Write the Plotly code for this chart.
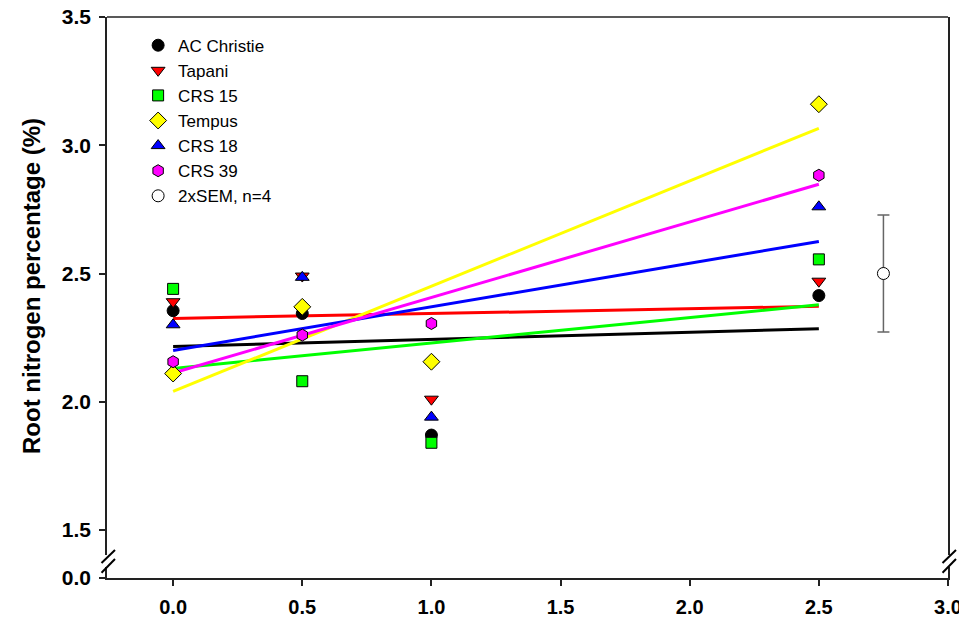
import plotly.graph_objects as go

# ---- data ----
x_levels = [0.0, 0.5, 1.0, 2.5]
cultivars = ["AC Christie", "Tapani", "CRS 15", "Tempus", "CRS 18", "CRS 39"]
ac_christie = [2.355, 2.344, 1.87, 2.414]
tapani = [2.39, 2.49, 2.01, 2.47]
crs15 = [2.44, 2.08, 1.84, 2.555]
tempus = [2.11, 2.37, 2.156, 3.16]
crs18 = [2.30, 2.485, 1.94, 2.76]
crs39 = [2.156, 2.26, 2.305, 2.883]

# regression line end values (at x = 0 and x = 2.5)
fit_x = [0.0, 2.5]
fit_ac_christie = [2.215, 2.285]
fit_tapani = [2.325, 2.372]
fit_crs15 = [2.13, 2.378]
fit_tempus = [2.04, 3.066]
fit_crs18 = [2.20, 2.625]
fit_crs39 = [2.112, 2.848]

sem_x = [2.75]
sem_y = [2.5]
sem_err = [0.228]

x_ticks = [0.0, 0.5, 1.0, 1.5, 2.0, 2.5, 3.0]
y_ticks = [1.5, 2.0, 2.5, 3.0, 3.5]

values = [ac_christie, tapani, crs15, tempus, crs18, crs39]
fits = [fit_ac_christie, fit_tapani, fit_crs15, fit_tempus, fit_crs18, fit_crs39]
colors = ["#000000", "#FF0000", "#00FF00", "#FFFF00", "#0000FF", "#FF00FF"]
symbols = ["circle", "triangle-down", "square", "diamond", "triangle-up", "hexagon"]
sizes = [12, 12, 11, 13, 12, 12]

FONT = "Liberation Sans, Arial, sans-serif"

fig = go.Figure()

# empty trace so that the lower (broken) y segment exists as a subplot
fig.add_trace(go.Scatter(x=[None], y=[None], xaxis="x", yaxis="y2",
                         mode="markers", showlegend=False, hoverinfo="skip"))

for fy, c in zip(fits, colors):
    fig.add_trace(go.Scatter(x=fit_x, y=fy, mode="lines",
                             line=dict(color=c, width=3),
                             showlegend=False, hoverinfo="skip"))

for name, v, c, s, sz in zip(cultivars, values, colors, symbols, sizes):
    fig.add_trace(go.Scatter(x=x_levels, y=v, mode="markers", name=name,
                             marker=dict(symbol=s, color=c, size=sz,
                                         line=dict(color="#000000", width=1))))

fig.add_trace(go.Scatter(x=sem_x, y=sem_y, mode="markers", name="2xSEM, n=4",
                         marker=dict(symbol="circle", color="#FFFFFF", size=12,
                                     line=dict(color="#000000", width=1)),
                         error_y=dict(type="data", array=sem_err, visible=True,
                                      color="#666666", thickness=1.5, width=6)))

xtickfont = dict(family=FONT, size=20, color="#000000")
ytickfont = dict(family=FONT, size=21, color="#000000")
axis_line = "#222222"

# slashes for the broken axis (paper coordinates)
shapes = []
for xa in [0.0, 1.0]:
    for (ya, yb) in [(0.0267, 0.0499), (0.0094, 0.0339)]:
        shapes.append(dict(type="line", xref="paper", yref="paper",
                           x0=xa - 0.0065, x1=xa + 0.0095, y0=ya, y1=yb,
                           line=dict(color="#000000", width=2)))
# top frame line
shapes.append(dict(type="line", xref="paper", yref="paper", x0=0, x1=1, y0=1, y1=1,
                   line=dict(color=axis_line, width=1.5)))

# the page body adds an 8px margin, so the figure is 8px smaller each way
fig.update_layout(
    width=959, height=616,
    margin=dict(l=99, r=19, t=9, b=46),
    paper_bgcolor="#FFFFFF", plot_bgcolor="#FFFFFF",
    shapes=shapes,
    xaxis=dict(range=[-0.256, 3.0], tickvals=x_ticks,
               ticktext=["<b>%.1f</b>" % v for v in x_ticks],
               ticks="outside", ticklen=6, tickwidth=1.5, tickcolor=axis_line,
               showline=True, linecolor=axis_line, linewidth=1.5,
               showgrid=False, zeroline=False, anchor="y2", automargin=False,
               ticklabeloverflow="allow", ticklabelstandoff=4,
               tickfont=xtickfont),
    yaxis=dict(domain=[0.041, 1.0], range=[1.4025, 3.5], tickvals=y_ticks,
               ticktext=["<b>%.1f</b>" % v for v in y_ticks],
               ticks="outside", ticklen=6, tickwidth=1.5,
               tickcolor=axis_line, showline=True, linecolor=axis_line,
               linewidth=1.5, mirror=True, showgrid=False, zeroline=False,
               tickfont=ytickfont, automargin=False, anchor="x",
               ticklabeloverflow="allow", ticklabelstandoff=4,
               title=dict(text="<b>Root nitrogen percentage (%)</b>",
                          font=dict(family=FONT, size=24, color="#000000"),
                          standoff=14)),
    yaxis2=dict(domain=[0.0, 0.0196], range=[0, 0.05], tickvals=[0.0],
                ticktext=["<b>0.0</b>"],
                ticks="outside", ticklen=6, tickwidth=1.5,
                tickcolor=axis_line, showline=True, linecolor=axis_line,
                linewidth=1.5, mirror=True, showgrid=False, zeroline=False,
                tickfont=ytickfont, anchor="x", automargin=False,
                ticklabeloverflow="allow", ticklabelstandoff=4),
    legend=dict(x=0.037, y=0.981, xanchor="left", yanchor="top",
                bgcolor="rgba(0,0,0,0)",
                font=dict(family=FONT, size=17, color="#000000")),
    font=dict(family=FONT),
)

fig.write_html("out.html")
